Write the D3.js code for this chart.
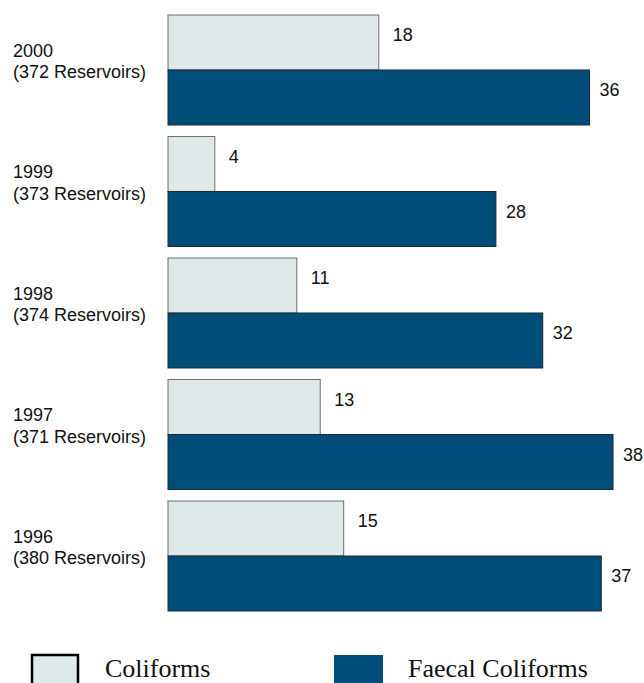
<!DOCTYPE html>
<html>
<head>
<meta charset="utf-8">
<script src="https://cdn.jsdelivr.net/npm/d3@7/dist/d3.min.js"></script>
<style>
  html, body { margin: 0; padding: 0; background: #ffffff; }
  svg { display: block; }
</style>
</head>
<body>
<svg id="chart" width="644" height="683"></svg>
<script>
// Reservoir survey results by year (values per year, top to bottom)
const years = ["2000", "1999", "1998", "1997", "1996"];
const reservoirCounts = [372, 373, 374, 371, 380];
const coliforms = [18, 4, 11, 13, 15];
const faecalColiforms = [36, 28, 32, 38, 37];
const seriesNames = ["Coliforms", "Faecal Coliforms"];

const colors = { Coliforms: "#dfe9ea", "Faecal Coliforms": "#004d7a" };
const strokes = { Coliforms: "#6f6f6f", "Faecal Coliforms": "#1c2a33" };

const svg = d3.select("#chart");

const rows = years.map((y, i) => ({
  year: y,
  count: reservoirCounts[i],
  values: [
    { key: seriesNames[0], value: coliforms[i] },
    { key: seriesNames[1], value: faecalColiforms[i] }
  ]
}));

const x = d3.scaleLinear()
  .domain([0, d3.max(faecalColiforms)])
  .range([168, 613]);

const y = d3.scaleBand()
  .domain(years)
  .range([15, 611])
  .paddingInner(0.0947)
  .paddingOuter(0);

const inner = d3.scaleBand()
  .domain(seriesNames)
  .range([0, y.bandwidth()])
  .padding(0);

const labelFont = "'Liberation Sans', Arial, Helvetica, sans-serif";

const groups = svg.selectAll("g.year")
  .data(rows)
  .join("g")
  .attr("class", "year")
  .attr("transform", d => `translate(0,${y(d.year)})`);

groups.selectAll("rect")
  .data(d => d.values)
  .join("rect")
  .attr("x", x(0))
  .attr("y", d => inner(d.key))
  .attr("width", d => x(d.value) - x(0))
  .attr("height", inner.bandwidth())
  .attr("fill", d => colors[d.key])
  .attr("stroke", d => strokes[d.key])
  .attr("stroke-width", 1);

// value labels to the right of each bar
groups.selectAll("text.value")
  .data(d => d.values)
  .join("text")
  .attr("class", "value")
  .attr("x", d => x(d.value) + (d.key === "Coliforms" ? 14 : 10))
  .attr("y", d => inner(d.key) + inner.bandwidth() / 2 - 1)
  .attr("font-family", labelFont)
  .attr("font-size", 18)
  .attr("fill", "#111")
  .text(d => d.value);

// year / reservoir count labels on the left
const cat = groups.append("text")
  .attr("font-family", labelFont)
  .attr("font-size", 18)
  .attr("fill", "#111");

cat.append("tspan")
  .attr("x", 13)
  .attr("y", y.bandwidth() / 2 - 13)
  .text(d => d.year);

cat.append("tspan")
  .attr("x", 13)
  .attr("y", y.bandwidth() / 2 + 8.5)
  .text(d => `(${d.count} Reservoirs)`);

// legend
const legend = svg.append("g");
const legendItems = [
  { key: "Coliforms", bx: 32, bw: 46, tx: 105, border: "#000", bwidth: 2.5 },
  { key: "Faecal Coliforms", bx: 334, bw: 49, tx: 408, border: "none", bwidth: 0 }
];

legend.selectAll("rect")
  .data(legendItems)
  .join("rect")
  .attr("x", d => d.bx)
  .attr("y", 655)
  .attr("width", d => d.bw)
  .attr("height", 40)
  .attr("fill", d => colors[d.key])
  .attr("stroke", d => d.border)
  .attr("stroke-width", d => d.bwidth);

legend.selectAll("text")
  .data(legendItems)
  .join("text")
  .attr("x", d => d.tx)
  .attr("y", 677)
  .attr("font-family", "'Liberation Serif', 'Times New Roman', serif")
  .attr("font-size", 26)
  .attr("fill", "#111")
  .text(d => d.key);
</script>
</body>
</html>
